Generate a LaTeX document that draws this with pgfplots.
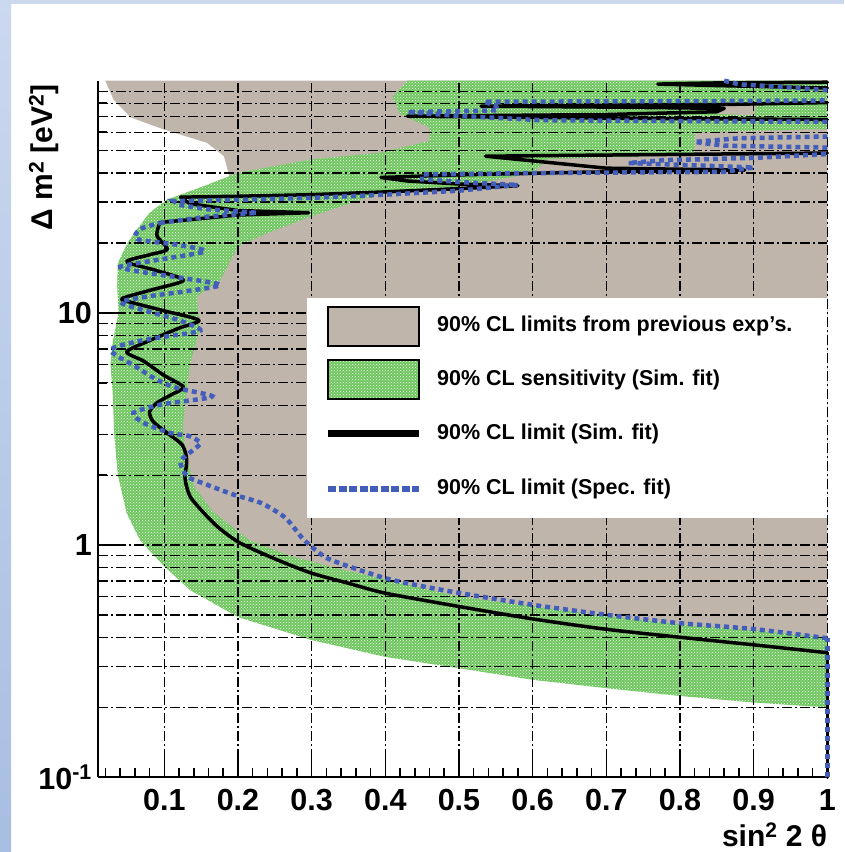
\documentclass[border=0pt]{standalone}
\usepackage{pgfplots}
\pgfplotsset{compat=1.18}
\usepackage{fontspec}
\setmainfont{Liberation Sans}
\usetikzlibrary{patterns}
\definecolor{prevgray}{RGB}{191,181,171}
\definecolor{sensgreen}{RGB}{108,198,92}
\definecolor{specblue}{RGB}{66,94,186}
\definecolor{stripA}{RGB}{203,216,238}
\definecolor{stripB}{RGB}{168,190,226}
\newcommand\tfont{\bfseries\fontsize{30.5}{32}\selectfont}
\newcommand\lfont{\bfseries\fontsize{30}{32}\selectfont}
\newcommand\gfont{\bfseries\fontsize{21.5}{24}\selectfont}
\tikzset{gridsty/.style={black, line width=1.3pt, dash pattern=on 10pt off 3pt on 2pt off 3pt},
  simline/.style={black, line width=3.5pt, line join=round, line cap=round},
  specline/.style={specblue, line width=4.5pt, dash pattern=on 5pt off 4pt}}
\begin{document}
\begin{tikzpicture}
\path[use as bounding box] (0pt,0pt) rectangle (844pt,852pt);
\fill[white] (0pt,0pt) rectangle (844pt,852pt);
\shade[top color=stripA, bottom color=stripB] (0pt,0pt) rectangle (11pt,852pt);
\fill[stripA] (0pt,848pt) rectangle (844pt,852pt);
\begin{axis}[at={(98pt,74.7pt)}, anchor=south west, scale only axis,
  width=729.3pt, height=696.6pt, xmin=0.01, xmax=1, ymin=0.1, ymax=100, ymode=log,
  axis on top,
  axis x line*=bottom, axis y line*=left,
  axis line style={black, line width=2pt, -},
  xtick={0.1,0.2,0.3,0.4,0.5,0.6,0.7,0.8,0.9,1},
  xticklabels={0.1,0.2,0.3,0.4,0.5,0.6,0.7,0.8,0.9,1},
  minor xtick={0.02,0.04,0.06,0.08,0.12,0.14,0.16,0.18,0.22,0.24,0.26,0.28,0.32,0.34,0.36,0.38,0.42,0.44,0.46,0.48,0.52,0.54,0.56,0.58,0.62,0.64,0.66,0.68,0.72,0.74,0.76,0.78,0.82,0.84,0.86,0.88,0.92,0.94,0.96,0.98},
  ytick={0.1,1,10},
  yticklabels={10\textsuperscript{-1},1,10},
  minor ytick={0.2,0.3,0.4,0.5,0.6,0.7,0.8,0.9,2,3,4,5,6,7,8,9,20,30,40,50,60,70,80,90},
  xmajorgrids, ymajorgrids, yminorgrids, xminorgrids=false,
  major grid style={gridsty}, minor grid style={gridsty},
  tick align=inside,
  major tick length=18pt, minor tick length=9pt,
  tick style={black, line width=1.5pt},
  xticklabel style={font=\tfont, inner sep=0pt, anchor=north, yshift=-12pt},
  yticklabel style={font=\tfont, inner sep=0pt, anchor=east, xshift=-6pt},
  xlabel={sin\textsuperscript{2} 2 θ},
  xlabel style={font=\lfont, at={(axis description cs:1,-0.1)}, anchor=base east, inner sep=0pt},
  ylabel={Δ m\textsuperscript{2} [eV\textsuperscript{2}]},
  ylabel style={font=\lfont, at={(axis description cs:-0.074,0.995)}, anchor=east, inner sep=0pt},
]
% previous experiments (excluded region)
\addplot[fill=prevgray, draw=none] coordinates {
(0.02,100) (0.031,83) (0.054,69.6) (0.099,61.7) (0.158,54) (0.181,47.3) (0.187,40.1) (0.19,35.1)
(0.19,25) (0.17,20) (0.15,15.9) (0.13,12) (0.13,9) (0.125,6) (0.12,4) (0.12,3) (0.125,2.4)
(0.128,1.98) (0.135,1.62) (0.158,1.33) (0.203,1.02) (0.253,0.865) (0.3,0.757) (0.4,0.621)
(0.5,0.544) (0.6,0.481) (0.7,0.434) (0.8,0.401) (0.9,0.372) (1,0.344) (1,100)} -- cycle;
% sensitivity band
\addplot[fill=sensgreen, draw=none, postaction={pattern=crosshatch dots, pattern color=white}] coordinates {
(1,0.20) (0.9,0.21) (0.8,0.224) (0.7,0.242) (0.6,0.263) (0.5,0.295) (0.4,0.33) (0.3,0.39)
(0.2,0.49) (0.135,0.64) (0.1,0.81) (0.067,1.05) (0.049,1.37) (0.037,2.0) (0.032,3.0) (0.03,4.5)
(0.027,6.0) (0.03,7.5) (0.038,10) (0.036,13) (0.037,16.4) (0.05,20) (0.063,22.9) (0.08,27)
(0.104,30.8) (0.153,35.1) (0.2,40.1) (0.3,45.8) (0.394,49) (0.46,55) (0.46,63) (0.42,72)
(0.41,85) (0.43,100) (1,100) (1,62) (0.82,60) (0.82,48) (0.62,46) (0.6,40) (0.5,35)
(0.394,32.9) (0.3,26.1) (0.24,22.1) (0.2,19.4) (0.176,13.9) (0.144,11.8) (0.148,8.5)
(0.135,6.1) (0.13,4.5) (0.125,3.2) (0.13,2.4) (0.14,1.8) (0.165,1.4) (0.215,1.05) (0.27,0.9)
(0.33,0.8) (0.4,0.71) (0.5,0.60) (0.6,0.545) (0.7,0.495) (0.8,0.455) (0.9,0.43) (1,0.40)} -- cycle;
\addplot[fill=prevgray, draw=none] coordinates {
(0.85,72) (0.9,71) (0.905,80) (0.85,80.5)} -- cycle;
\end{axis}
\begin{axis}[at={(98pt,74.7pt)}, anchor=south west, scale only axis,
  width=729.3pt, height=696.6pt, xmin=0.01, xmax=1, ymin=0.1, ymax=100, ymode=log,
  hide axis, clip=false]
% 90% CL limit (Sim. fit)
\addplot[simline] coordinates {(1,0.1) (1,0.344)};
\addplot[simline, smooth, tension=0.45] coordinates {
(1,0.344) (0.9,0.372) (0.8,0.401) (0.7,0.434) (0.6,0.481) (0.5,0.544) (0.4,0.621)
(0.35,0.685) (0.3,0.757) (0.253,0.865) (0.203,1.02) (0.175,1.18) (0.158,1.33) (0.143,1.5)
(0.135,1.62) (0.13,1.8) (0.128,1.98) (0.13,2.2) (0.13,2.4) (0.124,2.71) (0.104,3.04)
(0.085,3.4) (0.08,3.75) (0.09,4.1) (0.11,4.45) (0.126,4.8) (0.099,5.4) (0.072,6.2) (0.049,6.8)
(0.08,7.6) (0.12,8.6) (0.147,9.3) (0.1,10.2) (0.06,11.0) (0.042,11.5) (0.08,12.5) (0.126,13.8)
(0.09,15.2) (0.049,16.6) (0.08,17.8) (0.104,18.8) (0.09,21.5) (0.094,24.5)};
\addplot[simline] coordinates {
(0.094,24.5) (0.2,26.4)
(0.296,27.0) (0.2,27.6) (0.135,29.5) (0.122,31.5) (0.2,31.8) (0.3,32.3) (0.4,33.2) (0.5,34.3)
(0.58,35.3) (0.5,35.9) (0.43,37.0) (0.394,38.3) (0.5,39.3) (0.66,40.3) (0.8,41.0) (0.888,41.2)
(0.7,42.0) (0.536,47.3) (0.75,48.0) (1.0,48.8)};
\addplot[simline] coordinates {
(1.0,68) (0.7,69) (0.43,70.3) (0.7,71.5) (0.85,73.5) (0.86,76) (0.7,77) (0.53,77.7) (0.7,78.4)
(0.86,79) (1.0,80.5)};
\addplot[simline] coordinates {
(1.0,93) (0.85,95.3) (0.77,96.7) (0.85,97.8) (1.0,98.5)};
% 90% CL limit (Spec. fit)
\addplot[specline] coordinates {(1,0.1) (1,0.397)};
\addplot[specline, smooth, tension=0.45] coordinates {
(1,0.397) (0.9,0.435) (0.8,0.461) (0.7,0.501) (0.6,0.553) (0.516,0.610) (0.45,0.665)
(0.4,0.72) (0.344,0.823) (0.317,0.893) (0.29,1.05) (0.275,1.2) (0.262,1.33) (0.231,1.52)
(0.194,1.65) (0.158,1.82) (0.131,1.98) (0.122,2.29) (0.14,2.58) (0.149,2.75) (0.135,2.94)
(0.108,3.04) (0.072,3.36) (0.058,3.71) (0.095,4.03) (0.131,4.18) (0.165,4.38) (0.117,4.75)
(0.09,5.15) (0.06,5.9) (0.027,6.9) (0.06,7.5) (0.1,7.9) (0.149,8.4) (0.12,9.3) (0.08,10.1)
(0.041,11.1) (0.08,11.8) (0.13,12.4) (0.176,13.2) (0.12,14.2) (0.07,15.0) (0.04,15.8)
(0.09,16.9) (0.155,18.4) (0.12,19.6) (0.063,20.8) (0.067,22.9) (0.094,24.4)};
\addplot[specline] coordinates {
(0.094,24.4) (0.16,26.0)
(0.226,27.0) (0.16,27.9) (0.12,29.2) (0.113,30.3) (0.2,30.7) (0.3,31.3) (0.4,32.3) (0.5,33.6)
(0.58,35.6) (0.52,36.3) (0.45,37.6) (0.45,39.5) (0.6,40.0) (0.75,40.3) (0.86,40.5) (0.9,42.3)
(0.73,44.2) (0.78,45.5) (0.9,46.5) (1.0,48.3)};
\addplot[specline] coordinates {
(1.0,51.5) (0.86,52.5) (0.82,54.5) (0.88,56.5) (1.0,57.5)};
\addplot[specline] coordinates {
(1.0,66.5) (0.8,67.0) (0.611,67.6) (0.5,70.5) (0.43,73.3) (0.553,74.5) (0.55,78) (0.534,81.2)
(0.8,81.6) (1.0,82.2)};
\addplot[specline] coordinates {
(0.86,100) (0.88,96.5) (0.95,93.5) (1.0,91)};
\end{axis}
% legend
\fill[white] (307pt,334pt) rectangle (827pt,554pt);
\fill[prevgray] (328pt,506pt) rectangle (419pt,545pt);
\draw[black, line width=1.6pt] (328pt,506pt) rectangle (419pt,545pt);
\fill[sensgreen] (328pt,453pt) rectangle (419pt,492pt);
\fill[pattern=crosshatch dots, pattern color=white] (328pt,453pt) rectangle (419pt,492pt);
\draw[black, line width=1.6pt] (328pt,453pt) rectangle (419pt,492pt);
\draw[black, line width=7pt] (328pt,418pt) -- (419pt,418pt);
\draw[specblue, line width=5.5pt, dash pattern=on 8pt off 2.5pt] (328pt,363pt) -- (419pt,363pt);
\node[anchor=west, inner sep=0pt, font=\gfont] at (437pt,526pt) {90\% CL limits from previous exp's.};
\node[anchor=west, inner sep=0pt, font=\gfont] at (437pt,472.5pt) {90\% CL sensitivity (Sim. fit)};
\node[anchor=west, inner sep=0pt, font=\gfont] at (437pt,418pt) {90\% CL limit (Sim. fit)};
\node[anchor=west, inner sep=0pt, font=\gfont] at (437pt,363pt) {90\% CL limit (Spec. fit)};
\end{tikzpicture}
\end{document}
